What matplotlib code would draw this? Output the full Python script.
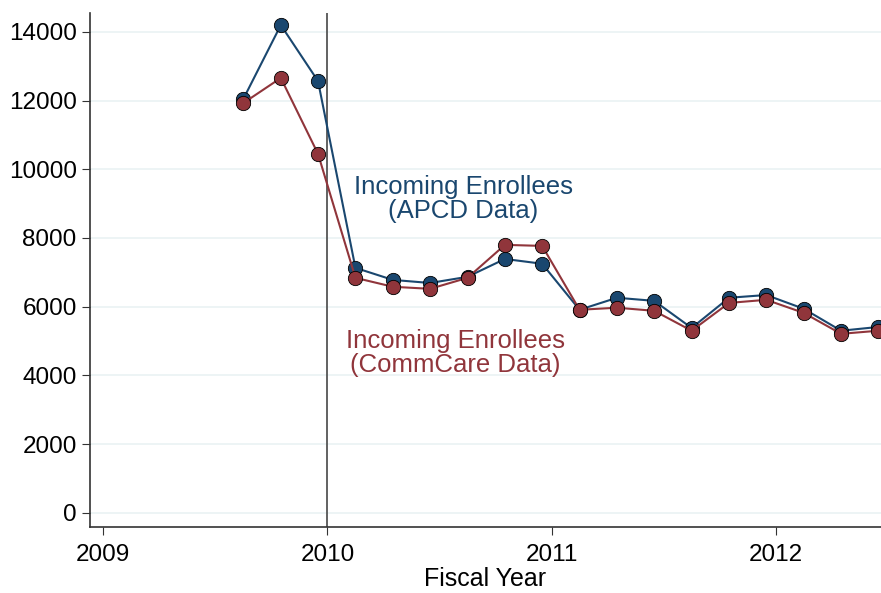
import numpy as np
import matplotlib.pyplot as plt

plt.rcParams['font.family'] = ['Liberation Sans', 'DejaVu Sans']

# fiscal year periods (bimonthly)
periods = [2009.625, 2009.792, 2009.958, 2010.125, 2010.292, 2010.458,
           2010.625, 2010.792, 2010.958, 2011.125, 2011.292, 2011.458,
           2011.625, 2011.792, 2011.958, 2012.125, 2012.292, 2012.458]
apcd = [12050, 14200, 12570, 7130, 6780, 6690, 6870, 7390, 7250,
        5910, 6260, 6170, 5380, 6260, 6340, 5940, 5300, 5410]
commcare = [11930, 12660, 10450, 6840, 6580, 6520, 6840, 7800, 7770,
            5910, 5970, 5880, 5300, 6110, 6200, 5820, 5210, 5300]

blue = '#1a476f'
red = '#90353b'

fig = plt.figure(figsize=(8.81, 5.93), dpi=100)
ax = fig.add_axes([0.102, 0.111, 0.898, 0.867])

ax.axvline(2010, color='#555555', lw=1.3, zorder=1)
ax.plot(periods, apcd, color=blue, lw=1.5, marker='o', ms=10.3,
        mfc=blue, mec='black', mew=0.6, zorder=3)
ax.plot(periods, commcare, color=red, lw=1.5, marker='o', ms=10.3,
        mfc=red, mec='black', mew=0.6, zorder=3)

ax.text(2010.605, 9150, 'Incoming Enrollees\n(APCD Data)', color=blue,
        fontsize=18.5, ha='center', va='center', linespacing=1.0)
ax.text(2010.57, 4650, 'Incoming Enrollees\n(CommCare Data)', color=red,
        fontsize=18.5, ha='center', va='center', linespacing=1.0)

ax.set_xlim(2008.94, 2012.47)
ax.set_ylim(-420, 14550)
ax.set_xticks([2009, 2010, 2011, 2012])
ax.set_yticks(np.arange(0, 14001, 2000))
ax.tick_params(labelsize=17.5, color='#333333', length=6)
ax.tick_params(axis='x', pad=6)
ax.grid(axis='y', color='#eaf2f3', lw=1.2)
ax.set_axisbelow(True)
for s in ['top', 'right']:
    ax.spines[s].set_visible(False)
for s in ['left', 'bottom']:
    ax.spines[s].set_color('#333333')
    ax.spines[s].set_linewidth(1.2)
ax.set_xlabel('Fiscal Year', fontsize=18, labelpad=1)

fig.savefig('out.png', dpi=100)
